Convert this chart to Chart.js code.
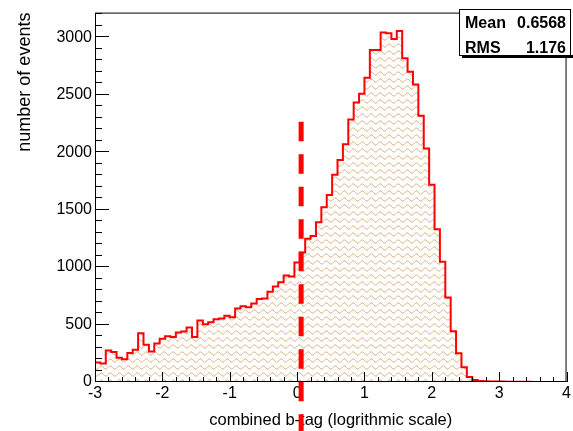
<!DOCTYPE html>
<html>
<head>
<meta charset="utf-8">
<script src="https://cdn.jsdelivr.net/npm/chart.js@4.4.1/dist/chart.umd.min.js"></script>
<style>
  html, body { margin: 0; padding: 0; background: #fff; }
  canvas { display: block; }
</style>
</head>
<body>
<canvas id="hist" width="573" height="431"></canvas>
<script>
// histogram definition: bins of 0.08 starting at -3
const binLow = -3;
const binWidth = 0.08;
const counts = [
    169, 160, 274, 260, 211, 199, 252, 280, 425, 325,
    266, 334, 377, 398, 391, 431, 440, 474, 392, 534,
    503, 520, 546, 552, 577, 563, 640, 660, 651, 683,
    723, 726, 785, 831, 868, 926, 917, 1040, 1127, 1246,
    1270, 1391, 1520, 1628, 1803, 1931, 2069, 2283, 2431, 2509,
    2648, 2888, 2888, 3040, 3035, 2985, 3054, 2817, 2700, 2589,
    2317, 2031, 1717, 1328, 1046, 736, 441, 250, 128, 43,
    17, 9, 7, 5, 4, 4, 3, 3, 2, 2,
    2, 1, 1, 1, 1, 1, 1, 0
];
const xTicks = [-3, -2, -1, 0, 1, 2, 3, 4];
const yTicks = [0, 500, 1000, 1500, 2000, 2500, 3000];
const xMinorStep = 0.2;
const yMinorStep = 100;

// cut line
const cutValue = 0.06;
const cutTop = 2265;

// stats box
const statLabels = ['Mean', 'RMS'];
const statValues = ['0.6568', '1.176'];

const FONT = '"Liberation Sans", Arial, Helvetica, sans-serif';

// step points at the bin edges
const histPoints = counts.map((c, i) => ({ x: binLow + i * binWidth, y: c }));
histPoints.push({ x: binLow + counts.length * binWidth, y: counts[counts.length - 1] });

// wavy ROOT-like fill pattern
function wavePattern(ctx) {
    const c = document.createElement('canvas');
    c.width = 9;
    c.height = 7;
    const g = c.getContext('2d');
    g.strokeStyle = 'rgba(212, 160, 98, 0.9)';
    g.lineWidth = 1;
    g.beginPath();
    for (let px = 0; px <= 9; px += 0.5) {
        const py = 3.5 - 1.6 * Math.sin(px / 9 * 2 * Math.PI);
        if (px === 0) g.moveTo(px, py); else g.lineTo(px, py);
    }
    g.stroke();
    return ctx.createPattern(c, 'repeat');
}

// frame, inside ticks, cut line
const rootFrame = {
    id: 'rootFrame',
    afterDatasetsDraw(chart) {
        const { ctx, chartArea: a, scales: { x, y } } = chart;
        ctx.save();
        ctx.strokeStyle = '#000';
        ctx.lineWidth = 1;
        ctx.beginPath();
        const nY = Math.floor(y.max / yMinorStep);
        for (let i = 0; i <= nY; i++) {
            const v = i * yMinorStep;
            const py = Math.round(y.getPixelForValue(v)) - 0.5;
            const len = yTicks.includes(v) ? 14 : 7;
            ctx.moveTo(a.left, py);
            ctx.lineTo(a.left + len, py);
        }
        const nX = Math.round((x.max - x.min) / xMinorStep);
        for (let i = 0; i <= nX; i++) {
            const v = x.min + i * xMinorStep;
            const px = Math.round(x.getPixelForValue(v)) + 0.5;
            const len = i % 5 === 0 ? 10 : 5;
            ctx.moveTo(px, a.bottom);
            ctx.lineTo(px, a.bottom - len);
        }
        ctx.stroke();
        ctx.strokeRect(a.left + 0.5, a.top + 0.5, a.right - a.left - 1, a.bottom - a.top - 1);

        // dashed cut line, runs down past the axis
        const cx = x.getPixelForValue(cutValue);
        ctx.strokeStyle = '#ff0000';
        ctx.lineWidth = 5;
        ctx.setLineDash([19.5, 13]);
        ctx.beginPath();
        ctx.moveTo(cx, y.getPixelForValue(cutTop));
        ctx.lineTo(cx, chart.height);
        ctx.stroke();
        ctx.restore();
    },
    afterDraw(chart) {
        const ctx = chart.ctx;
        ctx.save();
        // shadow then box
        ctx.fillStyle = '#000';
        ctx.fillRect(462, 55, 111, 3);
        ctx.fillStyle = '#fff';
        ctx.fillRect(460, 9, 110, 46);
        ctx.strokeStyle = '#000';
        ctx.lineWidth = 1;
        ctx.strokeRect(459.5, 9.5, 111, 46);
        ctx.fillStyle = '#000';
        ctx.font = 'bold 16px ' + FONT;
        ctx.textBaseline = 'alphabetic';
        statLabels.forEach((lab, i) => {
            const by = 28 + i * 24.5;
            ctx.textAlign = 'left';
            ctx.fillText(lab, 465, by);
            ctx.textAlign = 'right';
            ctx.fillText(statValues[i], 566, by);
        });
        ctx.restore();
    }
};

const ctx = document.getElementById('hist').getContext('2d');
const histChart = new Chart(ctx, {
    type: 'line',
    data: {
        datasets: [{
            data: histPoints,
            stepped: true,
            borderColor: '#ff0000',
            borderWidth: 2,
            backgroundColor: wavePattern(ctx),
            fill: 'origin',
            pointRadius: 0,
            tension: 0
        }]
    },
    options: {
        responsive: false,
        animation: false,
        layout: {
            autoPadding: false,
            padding: { left: 0, top: 7, right: 3, bottom: 0 }
        },
        plugins: {
            legend: { display: false },
            tooltip: { enabled: false }
        },
        scales: {
            x: {
                type: 'linear',
                min: -3,
                max: 4,
                grid: { display: false, drawTicks: false },
                border: { display: false },
                ticks: {
                    color: '#000',
                    font: { family: FONT, size: 16 },
                    padding: 2,
                    maxRotation: 0,
                    autoSkip: false,
                    callback: v => String(v)
                },
                afterBuildTicks: s => { s.ticks = xTicks.map(v => ({ value: v })); },
                afterFit: s => { s.height = 49; },
                title: {
                    display: true,
                    text: 'combined b-tag (logrithmic scale)',
                    color: '#000',
                    font: { family: FONT, size: 16.5 },
                    padding: { top: 0, bottom: 1 }
                }
            },
            y: {
                type: 'linear',
                min: 0,
                max: 3214,
                grid: { display: false, drawTicks: false },
                border: { display: false },
                ticks: {
                    color: '#000',
                    font: { family: FONT, size: 16 },
                    padding: 3,
                    callback: v => String(v)
                },
                afterBuildTicks: s => { s.ticks = yTicks.map(v => ({ value: v })); },
                afterFit: s => { s.width = 95; },
                title: {
                    display: true,
                    align: 'end',
                    text: 'number of events',
                    color: '#000',
                    font: { family: FONT, size: 18 },
                    padding: { top: 14, bottom: 0 }
                }
            }
        }
    },
    plugins: [rootFrame]
});
</script>
</body>
</html>
